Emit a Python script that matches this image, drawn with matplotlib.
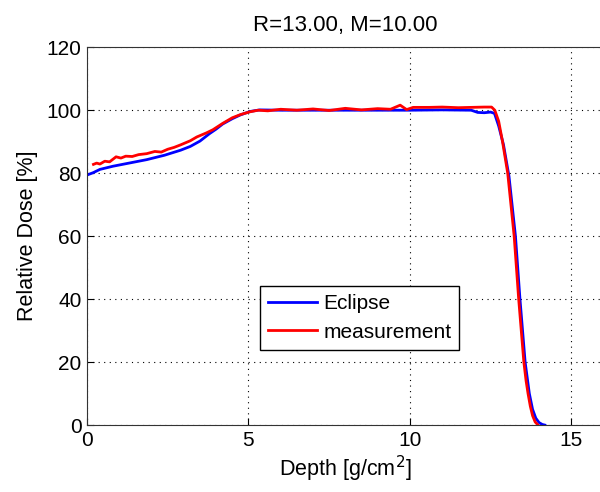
import numpy as np
import matplotlib
matplotlib.use("Agg")
import matplotlib.pyplot as plt

plt.rcParams['font.family'] = ['Liberation Sans', 'DejaVu Sans']

# Eclipse calculated depth dose
ecl_depth = [0.0, 0.2, 0.4, 0.8, 1.2, 1.85, 2.4, 2.9, 3.2, 3.5, 3.8, 4.0, 4.2, 4.5, 4.75, 5.05, 5.35,
             6.0, 7.0, 8.0, 9.0, 10.0, 11.0, 11.9, 12.1, 12.3, 12.5, 12.62, 12.75, 12.9, 13.07,
             13.27, 13.41, 13.57, 13.7, 13.8, 13.9, 14.0, 14.1, 14.18]
ecl_dose = [79.4, 80.2, 81.2, 82.2, 83.0, 84.3, 85.7, 87.3, 88.5, 90.2, 92.6, 94.0, 95.6, 97.3, 98.5, 99.6, 100.1,
            100.0, 100.0, 100.0, 100.0, 100.0, 100.1, 100.0, 99.3, 99.2, 99.4, 99.0, 95.0, 89.0, 79.0,
            60.0, 40.0, 20.0, 10.0, 5.0, 2.2, 0.8, 0.2, 0.0]

# measured depth dose
meas_depth = [0.2, 0.3, 0.4, 0.55, 0.7, 0.9, 1.05, 1.2, 1.4, 1.6, 1.85, 2.1, 2.3, 2.5, 2.7,
              2.9, 3.2, 3.4, 3.7, 3.9, 4.2, 4.5, 4.75, 5.05, 5.3, 5.6, 6.0, 6.5,
              7.0, 7.5, 8.0, 8.5, 9.0, 9.4, 9.7, 9.9, 10.1, 10.6, 11.0, 11.5, 11.9, 12.3,
              12.53, 12.63, 12.75, 12.87, 13.03, 13.13, 13.23, 13.3, 13.37, 13.45, 13.53, 13.6,
              13.66, 13.73, 13.8, 13.88, 13.97]
meas_dose = [82.8, 83.2, 82.9, 83.8, 83.6, 85.2, 84.8, 85.4, 85.3, 85.9, 86.2, 86.9, 86.7, 87.6, 88.2,
             89.0, 90.3, 91.5, 92.8, 93.8, 95.8, 97.6, 98.6, 99.5, 100.0, 99.8, 100.3, 100.0,
             100.4, 99.9, 100.6, 100.1, 100.5, 100.3, 101.6, 100.2, 100.9, 100.9, 101.0, 100.8, 100.9, 101.0,
             101.0, 100.0, 96.5, 90.0, 80.0, 70.0, 60.0, 50.0, 40.0, 30.0, 20.0, 14.0,
             10.0, 6.0, 3.0, 1.0, 0.0]

fig = plt.figure(figsize=(6, 4.92), dpi=100)
ax = fig.add_axes([0.145, 0.136, 0.861, 0.768])
ax.plot(ecl_depth, ecl_dose, color='blue', lw=2, label='Eclipse')
ax.plot(meas_depth, meas_dose, color='red', lw=2, label='measurement')
ax.set_xlim(0, 16)
ax.set_ylim(0, 120)
ax.set_xticks([0, 5, 10, 15])
ax.set_yticks(range(0, 121, 20))
ax.grid(True, color='black', linestyle=(0, (1, 4)), lw=0.8)
for s in ax.spines.values():
    s.set_color('#333333')
ax.tick_params(direction='in', labelsize=15, length=5, pad=4)
ax.set_xlabel(r'Depth [g/cm$^2$]', fontsize=15.5, labelpad=3)
ax.set_ylabel('Relative Dose [%]', fontsize=15.5, labelpad=6)
ax.set_title('R=13.00, M=10.00', fontsize=16, pad=12)
leg = ax.legend(loc='lower left', bbox_to_anchor=(0.335, 0.20), fontsize=15,
                fancybox=False, edgecolor='black', framealpha=1, handlelength=2.35,
                borderpad=0.38, labelspacing=0.45, handletextpad=0.3, borderaxespad=0)
leg.get_frame().set_linewidth(1.0)
fig.savefig('out.png', dpi=100)
